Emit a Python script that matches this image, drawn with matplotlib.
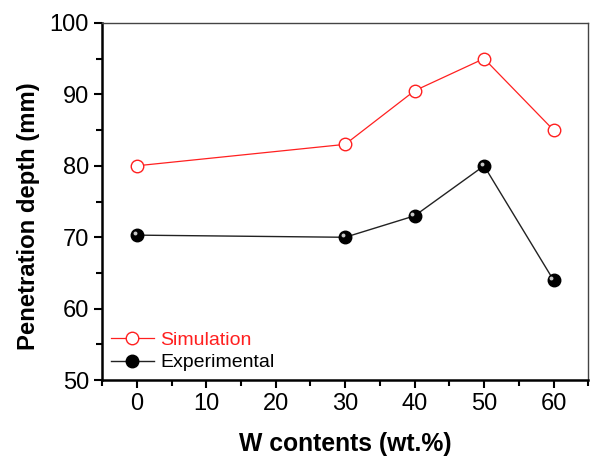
import matplotlib.pyplot as plt
from matplotlib.ticker import MultipleLocator
from matplotlib.transforms import offset_copy

plt.rcParams['font.family'] = ['Liberation Sans', 'DejaVu Sans']

w_content = [0, 30, 40, 50, 60]
simulation = [80, 83, 90.5, 95, 85]
experimental = [70.3, 70, 73, 80, 64]

fig = plt.figure(figsize=(5.9, 4.57), dpi=100)
ax = fig.add_axes([0.173, 0.168, 0.824, 0.782])

ax.plot(w_content, simulation, '-o', color='#ff2020', lw=0.9, ms=9,
        mfc='white', mec='#ff2020', mew=1.0, label='Simulation')
ax.plot(w_content, experimental, '-o', color='#222222', lw=1.0, ms=9,
        mfc='black', mec='black', label='Experimental')
# glossy highlight on the black balls
hl = offset_copy(ax.transData, fig=fig, x=-1.6, y=1.6, units='points')
ax.plot(w_content, experimental, 'o', ms=2.8, color='#c8c8c8', mec='none',
        transform=hl)

ax.set_xlim(-5, 65)
ax.set_ylim(50, 100)
ax.xaxis.set_major_locator(MultipleLocator(10))
ax.xaxis.set_minor_locator(MultipleLocator(5))
ax.yaxis.set_major_locator(MultipleLocator(10))
ax.yaxis.set_minor_locator(MultipleLocator(5))
ax.tick_params(which='both', direction='out', labelsize=17, width=1.5)
ax.tick_params(which='major', length=6)
ax.tick_params(which='minor', length=4)
for s in ['left', 'bottom']:
    ax.spines[s].set_linewidth(1.8)
for s in ['top', 'right']:
    ax.spines[s].set_linewidth(1.0)
    ax.spines[s].set_color('#444444')

ax.set_xlabel('W contents (wt.%)', fontsize=17.8, fontweight='bold', labelpad=12)
ax.set_ylabel('Penetration depth (mm)', fontsize=17.2, fontweight='bold')
ax.yaxis.set_label_coords(-0.128, 0.46)

leg = ax.legend(loc='lower left', frameon=False, fontsize=14, handlelength=2.2,
                handletextpad=0.36, labelspacing=0.25, borderaxespad=0.05)
leg.get_texts()[0].set_color('#ff2020')

fig.savefig('out.png', dpi=100)
